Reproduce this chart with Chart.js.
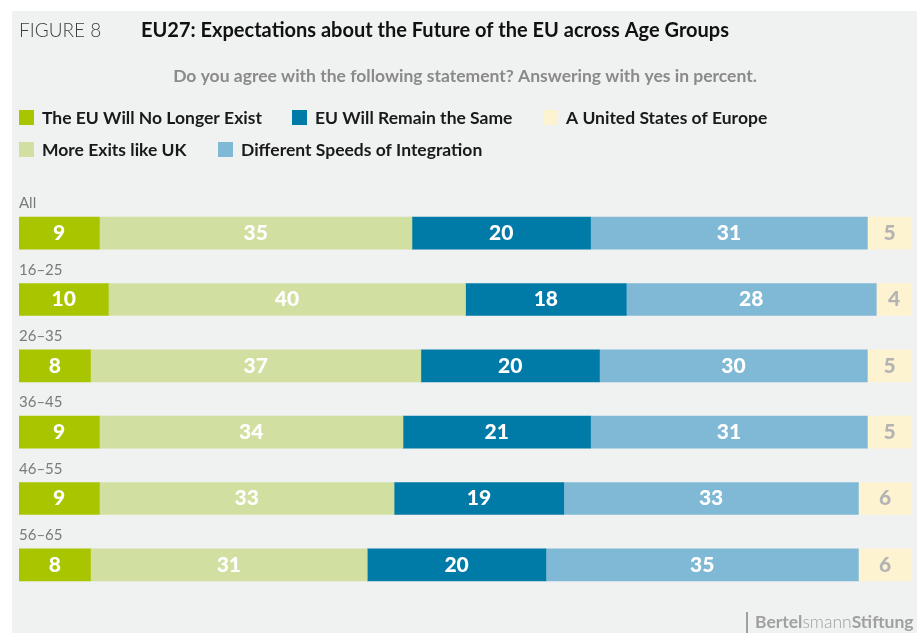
<!DOCTYPE html>
<html>
<head>
<meta charset="utf-8">
<title>EU27: Expectations about the Future of the EU across Age Groups</title>
<script src="https://cdn.jsdelivr.net/npm/chart.js@4/dist/chart.umd.min.js"></script>
<style>
  html, body { margin: 0; padding: 0; background: #fff; }
  #wrap { width: 917px; height: 633px; position: relative; }
</style>
</head>
<body>
<div id="wrap"><canvas id="futureChart"></canvas></div>
<script>
// data
const ageGroups = ["All", "16–25", "26–35", "36–45", "46–55", "56–65"];
const seriesNames = [
  "The EU Will No Longer Exist",
  "More Exits like UK",
  "EU Will Remain the Same",
  "Different Speeds of Integration",
  "A United States of Europe",
];
const noLongerExist = [9, 10, 8, 9, 9, 8];
const moreExits = [35, 40, 37, 34, 33, 31];
const remainSame = [20, 18, 20, 21, 19, 20];
const differentSpeeds = [31, 28, 30, 31, 33, 35];
const unitedStates = [5, 4, 5, 5, 6, 6];

const colors = ["#a8c500", "#d1e0a1", "#007ba7", "#80b9d5", "#fef3d1"];
const labelColors = ["#fff", "#fff", "#fff", "#fff", "#b3b3b3"];

const FONT = "Lato, 'Open Sans', sans-serif";

// legend placement like the original (two rows)
const legendSpots = [
  { x: 19, y: 110 },
  { x: 19, y: 142 },
  { x: 292, y: 110 },
  { x: 218, y: 142 },
  { x: 543, y: 110 },
];

const figurePlugin = {
  id: "figure",
  beforeDraw(chart) {
    const c = chart.ctx;
    c.save();
    c.fillStyle = "#fff";
    c.fillRect(0, 0, chart.width, chart.height);
    c.fillStyle = "#f0f1f1";
    c.fillRect(12, 11, chart.width - 12, chart.height - 11);

    c.textBaseline = "middle";
    c.textAlign = "left";
    c.fillStyle = "#3c3c3c";
    c.font = "300 19px " + FONT;
    c.fillText("FIGURE 8", 19, 31);
    c.fillStyle = "#111";
    c.font = "bold 20px " + FONT;
    c.fillText("EU27: Expectations about the Future of the EU across Age Groups", 141, 31);

    c.textAlign = "center";
    c.fillStyle = "#8a8a8a";
    c.font = "bold 17.5px " + FONT;
    c.fillText("Do you agree with the following statement? Answering with yes in percent.", 465, 76);

    // legend
    c.textAlign = "left";
    c.font = "bold 17.5px " + FONT;
    chart.data.datasets.forEach((ds, i) => {
      const p = legendSpots[i];
      c.fillStyle = ds.backgroundColor;
      c.fillRect(p.x, p.y, 15, 15);
      c.fillStyle = "#1a1a1a";
      c.fillText(ds.label, p.x + 23, p.y + 8);
    });

    // category labels above each bar
    const meta = chart.getDatasetMeta(0);
    c.fillStyle = "#7a7a7a";
    c.font = "15px " + FONT;
    c.textBaseline = "alphabetic";
    meta.data.forEach((bar, i) => {
      c.fillText(ageGroups[i], 19, bar.y - bar.height / 2 - 9);
    });

    // logo
    c.fillStyle = "#a0a0a0";
    c.fillRect(746, 612, 2, 21);
    let x = 755;
    const y = 628;
    [["bold", "Bertel"], ["300", "smann"], ["bold", "Stiftung"]].forEach(([w, t]) => {
      c.font = w + " 17.5px " + FONT;
      c.fillText(t, x, y);
      x += c.measureText(t).width;
    });
    c.restore();
  },
  afterDatasetsDraw(chart) {
    const c = chart.ctx;
    c.save();
    c.textAlign = "center";
    c.textBaseline = "middle";
    c.font = "900 21px " + FONT;
    chart.data.datasets.forEach((ds, i) => {
      chart.getDatasetMeta(i).data.forEach((bar, j) => {
        const left = Math.min(bar.x, bar.base);
        const right = Math.max(bar.x, bar.base);
        c.fillStyle = labelColors[i];
        c.fillText(String(ds.data[j]), (left + right) / 2, bar.y);
      });
    });
    c.restore();
  },
};

const allSeries = [noLongerExist, moreExits, remainSame, differentSpeeds, unitedStates];

new Chart(document.getElementById("futureChart"), {
  type: "bar",
  data: {
    labels: ageGroups,
    datasets: allSeries.map((values, i) => ({
      label: seriesNames[i],
      data: values,
      backgroundColor: colors[i],
      borderWidth: 0,
      barThickness: 32,
    })),
  },
  options: {
    indexAxis: "y",
    responsive: true,
    maintainAspectRatio: false,
    animation: false,
    layout: { padding: { top: 200, bottom: 35, left: 19, right: 5 } },
    plugins: {
      legend: { display: false },
      tooltip: { enabled: false },
    },
    scales: {
      x: { stacked: true, min: 0, max: 100, display: false },
      y: { stacked: true, display: false },
    },
  },
  plugins: [figurePlugin],
});
</script>
</body>
</html>
